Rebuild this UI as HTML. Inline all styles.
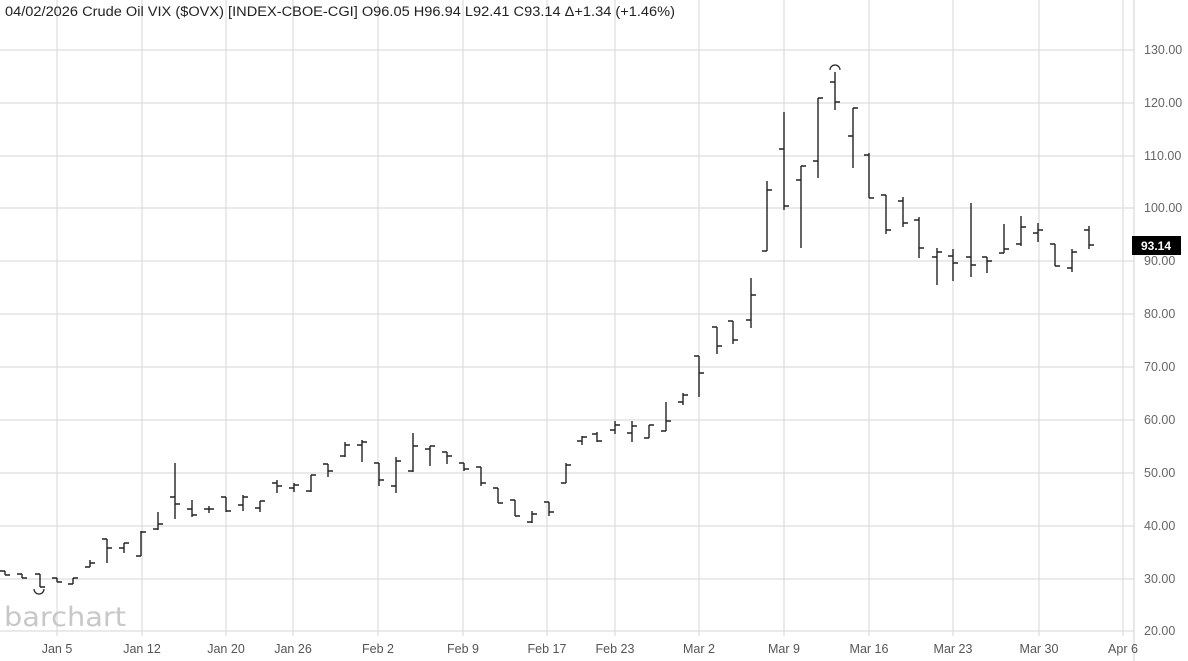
<!DOCTYPE html>
<html><head><meta charset="utf-8"><style>
html,body{margin:0;padding:0;background:#fff;}
svg{display:block;font-family:"Liberation Sans","DejaVu Sans",sans-serif;}
</style></head><body>
<svg width="1188" height="661" viewBox="0 0 1188 661" xmlns="http://www.w3.org/2000/svg">
<rect width="1188" height="661" fill="#fff"/>
<g stroke="#e3e3e3" stroke-width="1.5">
<line x1="0" x2="1134" y1="50" y2="50"/><line x1="0" x2="1134" y1="103" y2="103"/><line x1="0" x2="1134" y1="156" y2="156"/><line x1="0" x2="1134" y1="208" y2="208"/><line x1="0" x2="1134" y1="261" y2="261"/><line x1="0" x2="1134" y1="314" y2="314"/><line x1="0" x2="1134" y1="367" y2="367"/><line x1="0" x2="1134" y1="420" y2="420"/><line x1="0" x2="1134" y1="473" y2="473"/><line x1="0" x2="1134" y1="526" y2="526"/><line x1="0" x2="1134" y1="579" y2="579"/><line x1="0" x2="1134" y1="631" y2="631"/>
</g>
<g stroke="#dcdcdc" stroke-width="1.2">
<line x1="57" x2="57" y1="0" y2="636"/><line x1="142" x2="142" y1="0" y2="636"/><line x1="226" x2="226" y1="0" y2="636"/><line x1="293" x2="293" y1="0" y2="636"/><line x1="378" x2="378" y1="0" y2="636"/><line x1="463" x2="463" y1="0" y2="636"/><line x1="547" x2="547" y1="0" y2="636"/><line x1="615" x2="615" y1="0" y2="636"/><line x1="699" x2="699" y1="0" y2="636"/><line x1="784" x2="784" y1="0" y2="636"/><line x1="869" x2="869" y1="0" y2="636"/><line x1="953" x2="953" y1="0" y2="636"/><line x1="1039" x2="1039" y1="0" y2="636"/><line x1="1123" x2="1123" y1="0" y2="636"/>
</g>
<line x1="1134" x2="1134" y1="0" y2="661" stroke="#d0d0d0" stroke-width="1"/>
<text x="4" y="626" font-size="27" fill="#c8c8c8" font-family="'DejaVu Sans',sans-serif" textLength="122" lengthAdjust="spacingAndGlyphs">barchart</text>
<path stroke="#222" stroke-width="1.4" fill="none" d="M5 571V575M0 571H5M5 575H10M22 574V578M17 574H22M22 578H27M40 574V587M35 574H40M40 587H45M57 578V582M52 578H57M57 582H62M73 578V584M68 584H73M73 578H78M90 560V567M85 567H90M90 563H95M107 539V563M102 539H107M107 548H112M124 543V553M119 548H124M124 543H129M141 531V556M136 556H141M141 532H146M158 512V530M153 529H158M158 524H163M175 463V519M170 497H175M175 504H180M192 500V517M187 509H192M192 515H197M209 506V513M204 509H209M209 509H214M226 497V512M221 497H226M226 511H231M243 495V511M238 505H243M243 497H248M260 501V512M255 508H260M260 501H265M277 480V493M272 483H277M277 486H282M294 483V492M289 488H294M294 485H299M311 475V492M306 491H311M311 475H316M328 464V477M323 464H328M328 471H333M345 442V457M340 456H345M345 445H350M362 440V462M357 445H362M362 442H367M379 463V486M374 463H379M379 480H384M396 457V493M391 486H396M396 461H401M413 433V472M408 471H413M413 446H418M430 446V466M425 449H430M430 446H435M447 452V464M442 452H447M447 456H452M464 463V471M459 463H464M464 469H469M481 467V486M476 467H481M481 483H486M498 488V503M493 488H498M498 503H503M515 500V516M510 500H515M515 516H520M532 511V523M527 522H532M532 514H537M549 502V516M544 502H549M549 512H554M566 463V483M561 483H566M566 465H571M582 436V445M577 441H582M582 437H587M597 432V442M592 434H597M597 441H602M615 421V434M610 430H615M615 425H620M632 421V442M627 433H632M632 426H637M649 425V438M644 438H649M649 425H654M666 402V431M661 431H666M666 421H671M683 393V405M678 402H683M683 395H688M699 356V397M694 356H699M699 373H704M717 327V354M712 327H717M717 346H722M733 321V344M728 321H733M733 340H738M751 278V328M746 320H751M751 295H756M767 181V251M762 251H767M767 190H772M784 112V210M779 149H784M784 206H789M801 166V248M796 180H801M801 166H806M818 98V178M813 161H818M818 98H823M835 72V110M830 82H835M835 102H840M853 108V168M848 136H853M853 108H858M869 153V198M864 155H869M869 198H874M886 195V234M881 195H886M886 230H891M903 197V227M898 201H903M903 223H908M919 217V258M914 220H919M919 248H924M937 248V285M932 257H937M937 252H942M953 249V281M948 256H953M953 263H958M971 203V277M966 257H971M971 265H976M987 257V273M982 257H987M987 261H992M1004 224V253M999 253H1004M1004 249H1009M1021 216V246M1016 244H1021M1021 227H1026M1038 223V242M1033 233H1038M1038 230H1043M1055 244V266M1050 244H1055M1055 266H1060M1072 249V272M1067 268H1072M1072 252H1077M1089 226V249M1084 230H1089M1089 245H1094"/>
<path d="M34 589 a5 5 0 0 0 10 0" stroke="#222" fill="none" stroke-width="1.2"/>
<path d="M830 70 a5 5 0 0 1 10 0" stroke="#222" fill="none" stroke-width="1.2"/>
<g font-size="12.5" fill="#666">
<text x="1144" y="54">130.00</text><text x="1144" y="107">120.00</text><text x="1144" y="160">110.00</text><text x="1144" y="212">100.00</text><text x="1144" y="265">90.00</text><text x="1144" y="318">80.00</text><text x="1144" y="371">70.00</text><text x="1144" y="424">60.00</text><text x="1144" y="477">50.00</text><text x="1144" y="530">40.00</text><text x="1144" y="583">30.00</text><text x="1144" y="635">20.00</text>
</g>
<rect x="1132" y="236" width="49" height="19" fill="#000"/>
<text x="1156" y="250" font-size="12" font-weight="bold" fill="#fff" text-anchor="middle">93.14</text>
<g font-size="12.5" fill="#555" text-anchor="middle">
<text x="57" y="653">Jan 5</text><text x="142" y="653">Jan 12</text><text x="226" y="653">Jan 20</text><text x="293" y="653">Jan 26</text><text x="378" y="653">Feb 2</text><text x="463" y="653">Feb 9</text><text x="547" y="653">Feb 17</text><text x="615" y="653">Feb 23</text><text x="699" y="653">Mar 2</text><text x="784" y="653">Mar 9</text><text x="869" y="653">Mar 16</text><text x="953" y="653">Mar 23</text><text x="1039" y="653">Mar 30</text><text x="1123" y="653">Apr 6</text>
</g>
<text x="5" y="16" font-size="13.5" fill="#222" textLength="670" lengthAdjust="spacingAndGlyphs">04/02/2026 Crude Oil VIX ($OVX) [INDEX-CBOE-CGI] O96.05 H96.94 L92.41 C93.14 Δ+1.34 (+1.46%)</text>
</svg>
</body></html>
